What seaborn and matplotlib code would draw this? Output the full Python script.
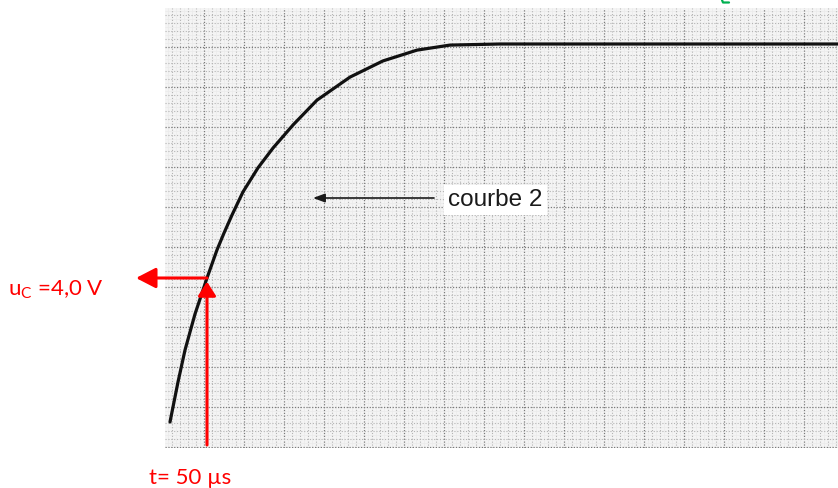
import matplotlib
matplotlib.use("Agg")
import numpy as np
import pandas as pd
import seaborn as sns
import matplotlib.pyplot as plt
from matplotlib.lines import Line2D

# Charging curve of the capacitor (courbe 2), time in µs, voltage in V
t_us = [0, 10.8, 20.3, 33.8, 50, 63.5, 73, 83.8, 98.6, 118.9, 139.2, 166.2,
        198.6, 243.2, 287.8, 333.8, 378.4, 445.9, 903]
u_V = [0.0, 1.11, 2.0, 3.0, 4.0, 4.78, 5.25, 5.75, 6.39, 7.06, 7.61, 8.25,
       8.94, 9.58, 10.03, 10.33, 10.47, 10.5, 10.5]

# Marked reading on the curve
t_mark = 50
u_mark = 4.0
label_u = r"u$_{\mathregular{C}}$ =4,0 V"
label_t = "t= 50 µs"
label_curve = "courbe 2"

df = pd.DataFrame({"t": t_us, "u": u_V})

sns.set_theme(style="white")
plt.rcParams["font.family"] = ["Lato", "DejaVu Sans"]

W, H = 838, 488
fig = plt.figure(figsize=(W / 100, H / 100), dpi=100)
fig.patch.set_facecolor("white")

# plotting area: the sheet of graph paper
left_px, right_px, top_px, bottom_px = 165, 838, 8, 448
ax = fig.add_axes([left_px / W, 1 - bottom_px / H,
                   (right_px - left_px) / W, (bottom_px - top_px) / H])
px_per_us = 0.74
px_per_V = 36.0
x0_px, y0_px = 170, 422
ax.set_xlim((left_px - x0_px) / px_per_us, (right_px - x0_px) / px_per_us)
ax.set_ylim((y0_px - bottom_px) / px_per_V, (y0_px - top_px) / px_per_V)
ax.set_facecolor("#f4f4f4")
for s in ax.spines.values():
    s.set_visible(False)
ax.set_xticks([])
ax.set_yticks([])


def xd(px):
    return (px - x0_px) / px_per_us


def yd(px):
    return (y0_px - px) / px_per_V


# millimetre paper: faint fine lines, dotted lines, darker dotted main lines
fine = 4.0
for k in range(-60, 200):
    xp = 204 + k * fine
    if left_px <= xp <= right_px:
        if k % 10 == 0:
            ax.axvline(xd(xp), color="#7a7a7a", lw=0.9, ls=(0, (1, 1.3)), zorder=1)
        elif k % 2 == 0:
            ax.axvline(xd(xp), color="#b4b4b4", lw=0.8, ls=(0, (1, 1.6)), zorder=1)
        else:
            ax.axvline(xd(xp), color="#ebebeb", lw=0.5, zorder=0.5)
for k in range(-60, 200):
    yp = 47 + k * fine
    if top_px <= yp <= bottom_px:
        if k % 10 == 0:
            ax.axhline(yd(yp), color="#7a7a7a", lw=0.9, ls=(0, (1, 1.3)), zorder=1)
        elif k % 2 == 0:
            ax.axhline(yd(yp), color="#b4b4b4", lw=0.8, ls=(0, (1, 1.6)), zorder=1)
        else:
            ax.axhline(yd(yp), color="#ebebeb", lw=0.5, zorder=0.5)

sns.lineplot(data=df, x="t", y="u", ax=ax, color="#111111", lw=2.3,
             zorder=5, estimator=None, sort=False,
             solid_joinstyle="round", solid_capstyle="round")
ax.set_xlabel("")
ax.set_ylabel("")

# curve label with its pointer
fig.text(448 / W, 1 - 206 / H, label_curve, fontsize=17.5, color="#1a1a1a",
         family=["Liberation Sans", "DejaVu Sans"], va="baseline", ha="left",
         bbox=dict(facecolor="white", edgecolor="none", pad=3))
ax.annotate("", xy=(313, H - 198), xycoords="figure pixels",
            xytext=(434, H - 198), textcoords="figure pixels",
            arrowprops=dict(arrowstyle="-|>,head_length=7,head_width=2.6",
                            mutation_scale=1, lw=1.2, color="#1a1a1a",
                            shrinkA=0, shrinkB=0), zorder=6)

# red reading arrows
red = "#ff0000"
ax.annotate("", xy=(t_mark, u_mark), xytext=(-71, 0), textcoords="offset pixels",
            arrowprops=dict(arrowstyle="<|-,head_length=12,head_width=6.2",
                            mutation_scale=1, lw=2.2, color=red,
                            shrinkA=0, shrinkB=0),
            annotation_clip=False, zorder=7)
ax.annotate("", xy=(t_mark, u_mark), xytext=(0, -167), textcoords="offset pixels",
            arrowprops=dict(arrowstyle="-|>,head_length=8.5,head_width=5.4",
                            mutation_scale=1, lw=2.2, color=red,
                            shrinkA=0, shrinkB=2.6),
            annotation_clip=False, zorder=7)

fig.text(8 / W, 1 - 295 / H, label_u, fontsize=16, color=red,
         va="baseline", ha="left")
fig.text(149 / W, 1 - 484 / H, label_t, fontsize=16, color=red,
         va="baseline", ha="left")

# small green stroke at the top edge, left over from the sheet's heading
fig.add_artist(Line2D([722 / W, 723 / W, 729 / W], [1, 1 - 2.5 / H, 1 - 2.5 / H],
                      color="#00b050", lw=1.6))

fig.savefig("out.png", dpi=100)
